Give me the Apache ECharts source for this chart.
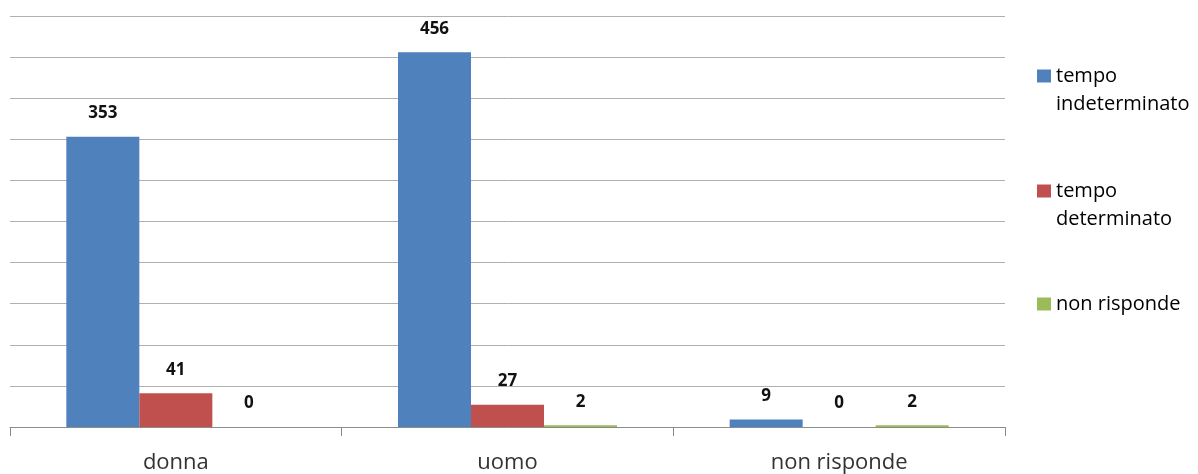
<!DOCTYPE html>
<html>
<head>
<meta charset="utf-8">
<script src="https://cdn.jsdelivr.net/npm/echarts@6/dist/echarts.min.js"></script>
<style>
  html, body { margin: 0; padding: 0; background: #ffffff; }
  #chart { width: 1198px; height: 474px; }
</style>
</head>
<body>
<div id="chart"></div>
<script>
// Contract type by gender
const categories = ['donna', 'uomo', 'non risponde'];
const seriesNames = ['tempo indeterminato', 'tempo determinato', 'non risponde'];
const indeterminato = [353, 456, 9];
const determinato = [41, 27, 0];
const nonRisponde = [0, 2, 2];
const seriesValues = [indeterminato, determinato, nonRisponde];
const colors = ['#4F81BD', '#C0504D', '#9BBB59'];

const FONT = '"Open Sans", "Noto Sans", sans-serif';

const chart = echarts.init(document.getElementById('chart'), null, { renderer: 'canvas' });

// one legend block per series so each entry can sit on its own row;
// two-line names get a blank leading line so the swatch lines up with "tempo"
const legendTops = [34, 149, 290];
const legends = seriesNames.map((name, i) => ({
  data: [name],
  orient: 'vertical',
  left: 1037,
  top: legendTops[i],
  padding: 0,
  itemWidth: 14,
  itemHeight: 13,
  itemGap: 0,
  icon: 'rect',
  selectedMode: false,
  formatter: n => n.indexOf('tempo ') === 0 ? '\u00a0\n' + n.replace('tempo ', 'tempo\n') : n,
  textStyle: {
    fontFamily: FONT,
    fontSize: 20,
    color: '#000000',
    lineHeight: 28
  }
}));

const series = seriesNames.map((name, i) => ({
  name: name,
  type: 'bar',
  data: seriesValues[i],
  barWidth: 73,
  barGap: '0%',
  itemStyle: { color: colors[i] },
  label: {
    show: true,
    position: 'top',
    distance: 15,
    fontFamily: FONT,
    fontSize: 17,
    fontWeight: 'bold',
    color: '#111111'
  }
}));

chart.setOption({
  animation: false,
  backgroundColor: '#ffffff',
  legend: legends,
  grid: { left: 10, right: 193, top: 16, bottom: 46, containLabel: false },
  xAxis: {
    type: 'category',
    data: categories,
    axisLine: { show: true, lineStyle: { color: '#8c8c8c', width: 1 } },
    axisTick: { show: true, length: 9, lineStyle: { color: '#8c8c8c' } },
    axisLabel: {
      fontFamily: FONT,
      fontSize: 22,
      color: '#333333',
      margin: 25
    }
  },
  yAxis: {
    type: 'value',
    min: 0,
    max: 500,
    interval: 50,
    axisLine: { show: false },
    axisTick: { show: false },
    axisLabel: { show: false },
    splitLine: { show: true, lineStyle: { color: '#b0b0b0', width: 1 } }
  },
  series: series
});
</script>
</body>
</html>
